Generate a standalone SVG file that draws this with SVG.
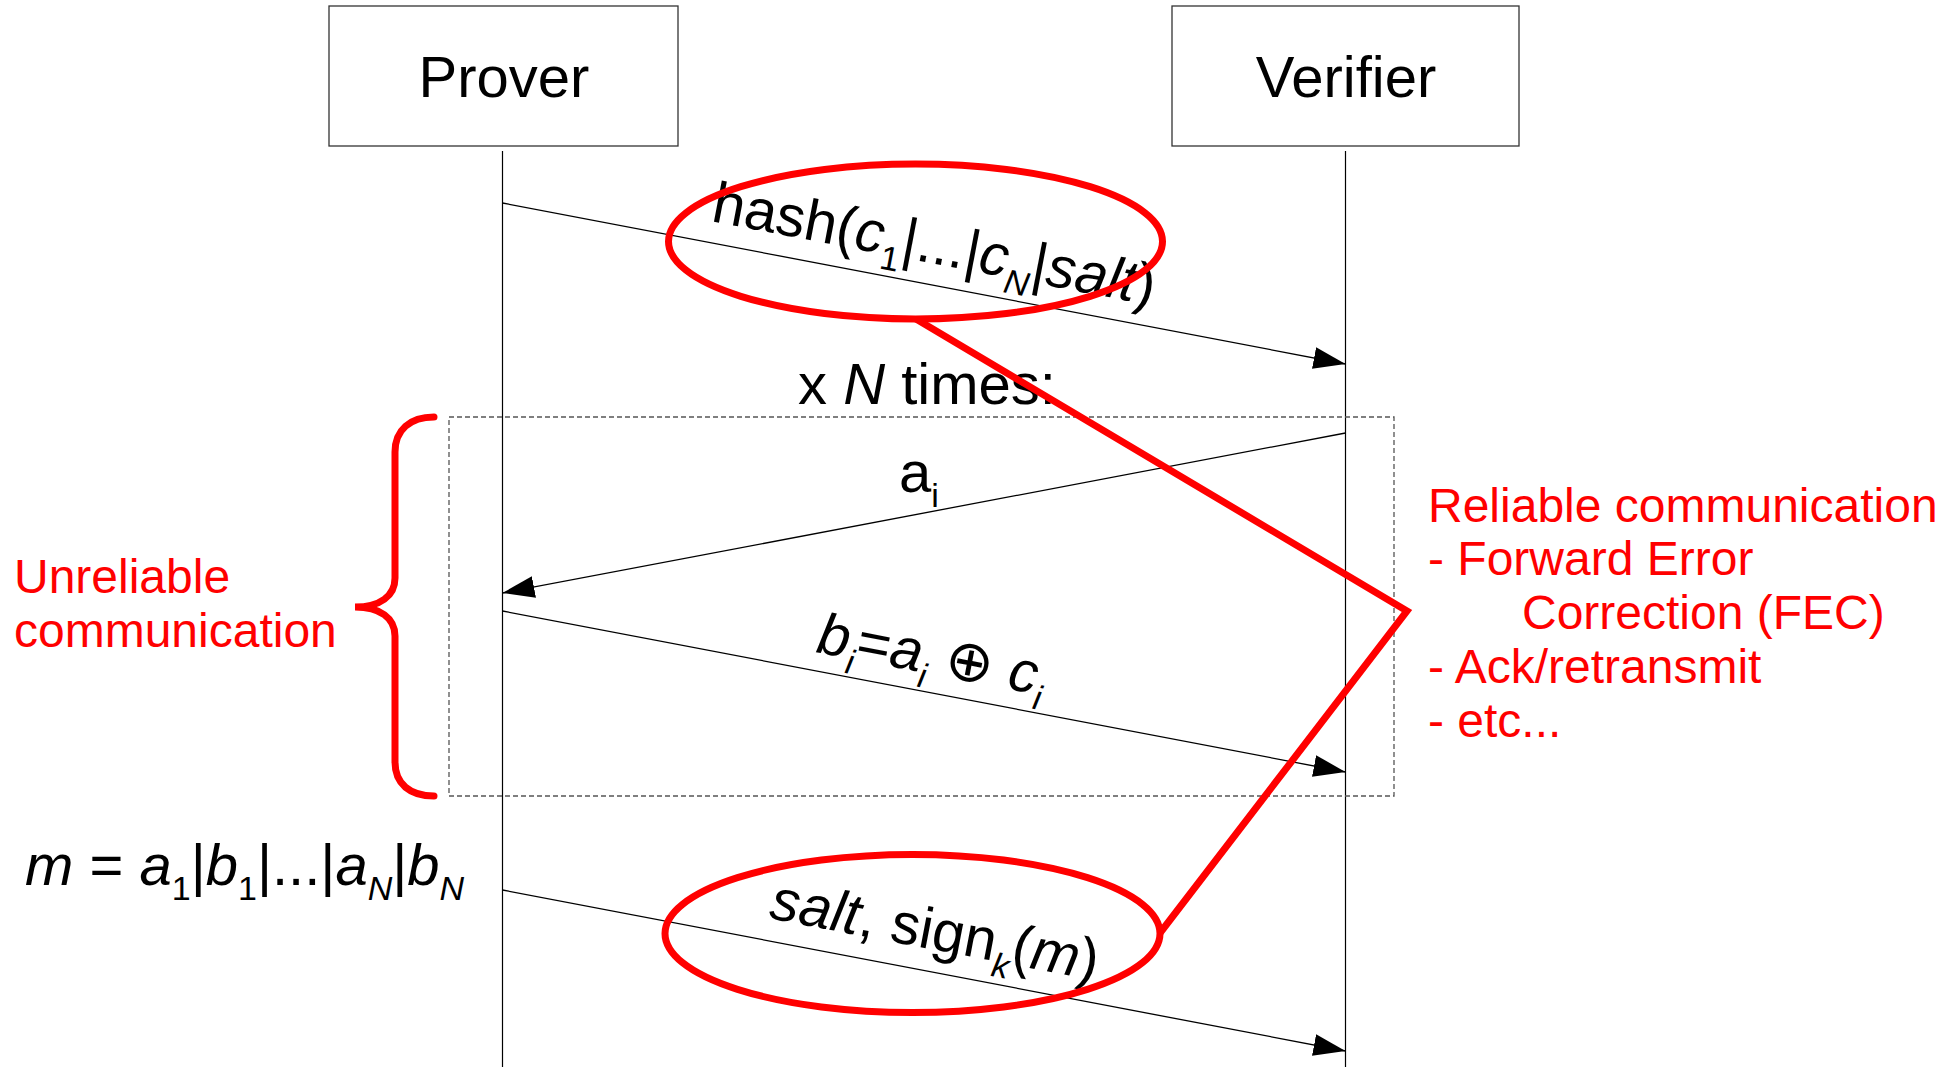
<svg xmlns="http://www.w3.org/2000/svg" width="1941" height="1067" viewBox="0 0 1941 1067">
  <style>
    .box { fill: #ffffff; stroke: #333333; stroke-width: 1.3; }
    .life { stroke: #000000; stroke-width: 1.2; fill: none; }
    .msg { stroke: #000000; stroke-width: 1.3; fill: none; marker-end: url(#arrow); }
    .frame { fill: none; stroke: #555555; stroke-width: 1.3; stroke-dasharray: 5 3; }
    .hl { fill: none; stroke: #ff0000; stroke-width: 7; }
    .lbl { font-family: "Liberation Sans", "DejaVu Sans", sans-serif; font-size: 58px; fill: #000000; }
    .note { font-family: "Liberation Sans", "DejaVu Sans", sans-serif; font-size: 48px; fill: #ff0000; }
    .it { font-style: italic; }
    .sub { font-size: 34px; }
  </style>
  <defs>
    <marker id="arrow" markerUnits="userSpaceOnUse" markerWidth="32" markerHeight="22" refX="32" refY="11" orient="auto">
      <path d="M0,0 L32,11 L0,22 Z" fill="#000000"/>
    </marker>
  </defs>

  <!-- participants -->
  <g id="prover">
    <rect class="box" x="329" y="6" width="349" height="140"/>
    <text class="lbl" x="504" y="97" text-anchor="middle">Prover</text>
    <line class="life" x1="502.5" y1="151" x2="502.5" y2="1067"/>
  </g>
  <g id="verifier">
    <rect class="box" x="1172" y="6" width="347" height="140"/>
    <text class="lbl" x="1346" y="97" text-anchor="middle">Verifier</text>
    <line class="life" x1="1345.5" y1="151" x2="1345.5" y2="1067"/>
  </g>

  <!-- repeated exchange frame -->
  <g id="loop">
    <rect class="frame" x="449" y="417" width="945" height="379"/>
    <text class="lbl" x="798" y="404">x <tspan class="it">N</tspan> times:</text>
  </g>

  <!-- messages -->
  <g id="connectors">
    <line class="msg" x1="502.5" y1="203" x2="1345.5" y2="364"/>
    <line class="msg" x1="1345.5" y1="433" x2="502.5" y2="593"/>
    <line class="msg" x1="502.5" y1="611" x2="1345.5" y2="772"/>
    <line class="msg" x1="502.5" y1="890" x2="1345.5" y2="1051"/>
  </g>

  <!-- message labels -->
  <g id="labels">
    <text class="lbl" transform="translate(710,221) rotate(10.8)">hash(<tspan class="it">c</tspan><tspan class="sub" dy="15">1</tspan><tspan dy="-15">|...|</tspan><tspan class="it">c</tspan><tspan class="sub it" dy="15">N</tspan><tspan dy="-15">|</tspan><tspan class="it">salt</tspan>)</text>
    <text class="lbl" x="899" y="492">a<tspan class="sub" dy="15">i</tspan></text>
    <text class="lbl" transform="translate(815,652) rotate(10.8)"><tspan class="it">b</tspan><tspan class="sub it" dy="15">i</tspan><tspan dy="-15">=</tspan><tspan class="it">a</tspan><tspan class="sub it" dy="15">i</tspan><tspan dy="-15"> ⊕ </tspan><tspan class="it">c</tspan><tspan class="sub it" dy="15">i</tspan></text>
    <text class="lbl" transform="translate(768,918) rotate(10.8)"><tspan class="it">salt</tspan>, sign<tspan class="sub it" dy="15">k</tspan><tspan dy="-15">(</tspan><tspan class="it">m</tspan>)</text>
    <text class="lbl" x="25" y="885"><tspan class="it">m</tspan> = <tspan class="it">a</tspan><tspan class="sub" dy="15">1</tspan><tspan dy="-15">|</tspan><tspan class="it">b</tspan><tspan class="sub" dy="15">1</tspan><tspan dy="-15">|...|</tspan><tspan class="it">a</tspan><tspan class="sub it" dy="15">N</tspan><tspan dy="-15">|</tspan><tspan class="it">b</tspan><tspan class="sub it" dy="15">N</tspan></text>
  </g>

  <!-- red annotations -->
  <g id="unreliable">
    <path class="hl" stroke-linecap="round" d="M434,417 C410,417 395,430 395,452 L395,578 C395,596 380,607 355,607 C380,607 395,618 395,636 L395,762 C395,784 410,796 434,796"/>
    <text class="note" x="14" y="593">Unreliable</text>
    <text class="note" x="14" y="647">communication</text>
  </g>
  <g id="reliable">
    <ellipse class="hl" cx="915.5" cy="241.5" rx="247" ry="77.5"/>
    <ellipse class="hl" cx="912.5" cy="933.5" rx="247.5" ry="79"/>
    <polyline class="hl" stroke-width="6.5" stroke-linejoin="miter" points="916,319 1407,611 1160,933"/>
    <text class="note" x="1428" y="522">Reliable communication</text>
    <text class="note" x="1428" y="575">- Forward Error</text>
    <text class="note" x="1522" y="629">Correction (FEC)</text>
    <text class="note" x="1428" y="683">- Ack/retransmit</text>
    <text class="note" x="1428" y="737">- etc...</text>
  </g>
</svg>
